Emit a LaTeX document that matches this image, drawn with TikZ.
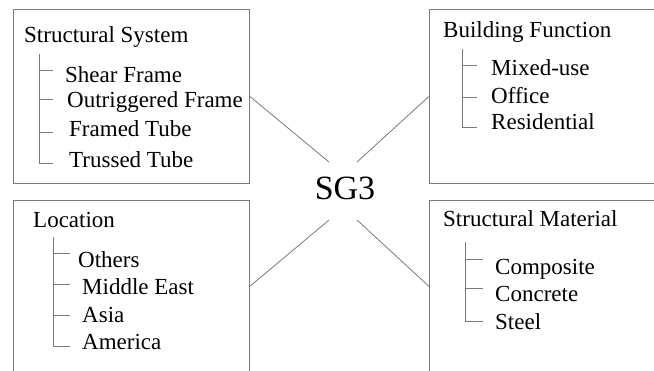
\documentclass[tikz,border=0pt]{standalone}
\usepackage{fontspec}
\newfontfamily\labelfont{Liberation Serif}
\tikzset{
	group box/.style={draw=black!52, line width=0.8pt, anchor=north west, inner sep=0pt},
	group text/.style={anchor=base west, inner sep=0pt, font=\labelfont\fontsize{23}{28}\selectfont},
	tree line/.style={draw=black!52, line width=0.8pt},
	link/.style={draw=black!52, line width=0.8pt},
}

\begin{document}
\begin{tikzpicture}[x=1pt, y=-1pt]
	\useasboundingbox (0,0) rectangle (654,371);

	\node[inner sep=0pt, anchor=base, font=\labelfont\fontsize{34}{40}\selectfont] (sg) at (345,200) {SG3};

	% Structural System
	\node[group text] (system) at (24,43) {Structural System};
	\node[group text] (shear) at (65,83) {Shear Frame};
	\node[group text] (outrigger) at (67,108) {Outriggered Frame};
	\node[group text] (framed) at (69,137) {Framed Tube};
	\node[group text] (trussed) at (69,168) {Trussed Tube};

	% Building Function
	\node[group text] (function) at (443,38) {Building Function};
	\node[group text] (mixed) at (491,76) {Mixed-use};
	\node[group text] (office) at (491,104) {Office};
	\node[group text] (residential) at (491,130) {Residential};

	% Location
	\node[group text] (location) at (33,228) {Location};
	\node[group text] (others) at (78,268) {Others};
	\node[group text] (middle east) at (82,295) {Middle East};
	\node[group text] (asia) at (82,323) {Asia};
	\node[group text] (america) at (82,350) {America};

	% Structural Material
	\node[group text] (material) at (443,227) {Structural Material};
	\node[group text] (composite) at (495,275) {Composite};
	\node[group text] (concrete) at (495,302) {Concrete};
	\node[group text] (steel) at (495,330) {Steel};

	% frames round the four groups
	\node[group box, minimum width=236pt, minimum height=174pt] (system box) at (13,9) {};
	\node[group box, minimum width=240pt, minimum height=174pt] (function box) at (429,9) {};
	\node[group box, minimum width=236pt, minimum height=172pt] (location box) at (13,200) {};
	\node[group box, minimum width=240pt, minimum height=172pt] (material box) at (429,200) {};

	\coordinate (sg nw) at (329,162);
	\coordinate (sg ne) at (357,162);
	\coordinate (sg sw) at (329,220);
	\coordinate (sg se) at (357,220);
	\draw[link] (system box.east) -- (sg nw);
	\draw[link] (function box.west) -- (sg ne);
	\draw[link] (location box.east) -- (sg sw);
	\draw[link] (material box.west) -- (sg se);

	% tree lines
	\coordinate (system root) at (39,54);
	\draw[tree line] (system root) -- ++(0,109) -- ++(14,0);
	\foreach \dy in {16,45,78}
		\draw[tree line] (system root) ++(0,\dy) -- ++(14,0);
	\coordinate (function root) at (462,49);
	\draw[tree line] (function root) -- ++(0,78) -- ++(15,0);
	\foreach \dy in {16,48}
		\draw[tree line] (function root) ++(0,\dy) -- ++(15,0);
	\coordinate (location root) at (53,237);
	\draw[tree line] (location root) -- ++(0,109) -- ++(17,0);
	\foreach \dy in {16,47,78}
		\draw[tree line] (location root) ++(0,\dy) -- ++(17,0);
	\coordinate (material root) at (465,242);
	\draw[tree line] (material root) -- ++(0,79) -- ++(18,0);
	\foreach \dy in {17,46}
		\draw[tree line] (material root) ++(0,\dy) -- ++(18,0);
\end{tikzpicture}
\end{document}
